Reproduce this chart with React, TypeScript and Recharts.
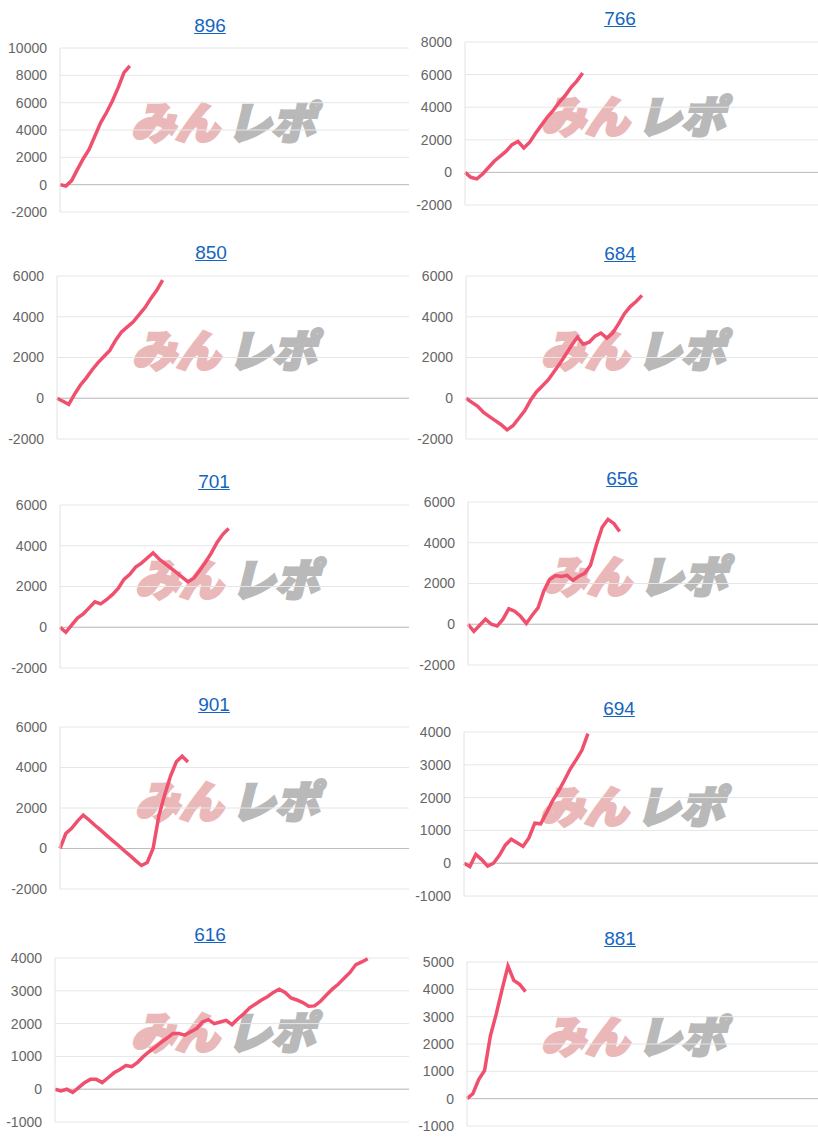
import { LineChart, Line, XAxis, YAxis, CartesianGrid, ReferenceLine } from 'recharts'

// x is a slot index; every chart shares the same 60-slot period
const X_SLOTS = 60

const titles = ['896', '766', '850', '684', '701', '656', '901', '694', '616', '881']

const values896 = [0, -100, 300, 1120, 1900, 2580, 3560, 4540, 5280, 6120, 7100, 8200, 8700]
const values766 = [0, -300, -400, -100, 300, 700, 1000, 1300, 1700, 1900, 1500, 1850, 2400, 2900, 3400, 3800, 4300, 4700, 5200, 5600, 6100]
const values850 = [0, -150, -300, 200, 650, 1000, 1400, 1750, 2050, 2350, 2850, 3250, 3500, 3750, 4100, 4450, 4900, 5300, 5800]
const values684 = [0, -200, -400, -700, -900, -1100, -1300, -1550, -1350, -980, -620, -100, 310, 600, 900, 1300, 1700, 2150, 2600, 3000, 2650, 2750, 3050, 3200, 2950, 3200, 3650, 4150, 4500, 4750, 5050]
const values701 = [0, -250, 100, 450, 650, 950, 1250, 1150, 1350, 1600, 1900, 2350, 2600, 2950, 3150, 3400, 3650, 3360, 3140, 2910, 2690, 2460, 2230, 2410, 2780, 3190, 3640, 4160, 4560, 4850]
const values656 = [0, -350, -50, 250, 0, -90, 250, 760, 640, 390, 40, 440, 800, 1640, 2200, 2390, 2350, 2400, 2150, 2360, 2500, 2900, 3890, 4760, 5150, 4950, 4550]
const values901 = [0, 740, 1000, 1350, 1650, 1410, 1150, 905, 650, 400, 160, -100, -340, -600, -840, -690, 0, 1620, 2660, 3580, 4280, 4560, 4270]
const values694 = [0, -100, 270, 110, -90, 0, 240, 550, 730, 620, 510, 770, 1220, 1200, 1540, 1900, 2190, 2520, 2870, 3150, 3450, 3950]
const values616 = [0, -50, 0, -100, 50, 200, 300, 300, 200, 350, 500, 600, 720, 690, 820, 1000, 1150, 1280, 1430, 1560, 1700, 1700, 1650, 1750, 1850, 2050, 2120, 2000, 2050, 2100, 1970, 2150, 2300, 2480, 2600, 2720, 2820, 2950, 3050, 2950, 2780, 2720, 2640, 2530, 2540, 2680, 2870, 3050, 3200, 3380, 3560, 3800, 3880, 3980]
const values881 = [0, 180, 700, 1030, 2300, 3100, 4000, 4850, 4330, 4180, 3920]

const ticks896 = [-2000, 0, 2000, 4000, 6000, 8000, 10000]
const ticks766 = [-2000, 0, 2000, 4000, 6000, 8000]
const ticks6k = [-2000, 0, 2000, 4000, 6000]
const ticks4k = [-1000, 0, 1000, 2000, 3000, 4000]
const ticks881 = [-1000, 0, 1000, 2000, 3000, 4000, 5000]

const panels = [
  { title: titles[0], values: values896, ticks: ticks896, col: 0, titleX: 210, titleY: 26, top: 48, bottom: 212, left: 60 },
  { title: titles[1], values: values766, ticks: ticks766, col: 1, titleX: 620, titleY: 19, top: 42, bottom: 205, left: 465 },
  { title: titles[2], values: values850, ticks: ticks6k, col: 0, titleX: 211, titleY: 253, top: 276, bottom: 439, left: 57 },
  { title: titles[3], values: values684, ticks: ticks6k, col: 1, titleX: 620, titleY: 254, top: 276, bottom: 439, left: 466 },
  { title: titles[4], values: values701, ticks: ticks6k, col: 0, titleX: 214, titleY: 482, top: 505, bottom: 668, left: 60 },
  { title: titles[5], values: values656, ticks: ticks6k, col: 1, titleX: 622, titleY: 479, top: 502, bottom: 665, left: 468 },
  { title: titles[6], values: values901, ticks: ticks6k, col: 0, titleX: 214, titleY: 705, top: 727, bottom: 889, left: 60 },
  { title: titles[7], values: values694, ticks: ticks4k, col: 1, titleX: 619, titleY: 709, top: 732, bottom: 896, left: 464 },
  { title: titles[8], values: values616, ticks: ticks4k, col: 0, titleX: 210, titleY: 935, top: 958, bottom: 1122, left: 55 },
  { title: titles[9], values: values881, ticks: ticks881, col: 1, titleX: 620, titleY: 939, top: 962, bottom: 1126, left: 467 },
]

const FONT = '"Liberation Sans", Arial, sans-serif'
const PINK = '#ebb8b9'
const GREY = '#b9b9b9'

function Panel({ p }: { p: (typeof panels)[number] }) {
  const colLeft = p.col === 0 ? 0 : 410
  const colWidth = p.col === 0 ? 409 : 408
  const data = p.values.map((v, i) => ({ slot: i, diff: v }))
  const pad = 12

  return (
    <>
      <a
        href="#"
        style={{
          position: 'absolute',
          left: p.titleX - 50,
          width: 100,
          top: p.titleY - 12,
          lineHeight: '24px',
          textAlign: 'center',
          fontFamily: FONT,
          fontSize: 19,
          color: '#1565c0',
          textDecoration: 'underline',
        }}
      >
        {p.title}
      </a>
      {/* watermark */}
      <div
        style={{
          position: 'absolute',
          left: p.titleX - 79,
          top: p.top + 50,
          whiteSpace: 'nowrap',
          fontFamily: '"Noto Sans CJK JP", sans-serif',
          fontSize: 44,
          fontWeight: 900,
          fontStyle: 'italic',
          lineHeight: 1,
        }}
      >
        <span style={{ color: PINK, WebkitTextStroke: `3px ${PINK}` }}>みん</span>
        <span style={{ color: GREY, WebkitTextStroke: `3px ${GREY}`, marginLeft: 8 }}>レポ</span>
      </div>
      <div style={{ position: 'absolute', left: colLeft, top: p.top - pad }}>
        <LineChart
          width={colWidth}
          height={p.bottom - p.top + pad * 2}
          data={data}
          margin={{ top: pad, right: 0, bottom: pad, left: 0 }}
        >
          <CartesianGrid vertical={false} stroke="#e6e6e6" />
          <XAxis dataKey="slot" type="number" domain={[0, X_SLOTS]} hide />
          <YAxis
            width={p.left - colLeft}
            type="number"
            domain={[p.ticks[0], p.ticks[p.ticks.length - 1]]}
            ticks={p.ticks}
            interval={0}
            tickLine={false}
            tickSize={0}
            tickMargin={13}
            axisLine={{ stroke: '#e2e2e2' }}
            tick={{ fontSize: 14, fill: '#666', fontFamily: FONT }}
          />
          <ReferenceLine y={0} stroke="#bdbdbd" />
          <Line
            type="linear"
            dataKey="diff"
            stroke="#f0506e"
            strokeWidth={3.5}
            dot={false}
            isAnimationActive={false}
          />
        </LineChart>
      </div>
    </>
  )
}

export default function App() {
  return (
    <div
      style={{
        position: 'absolute',
        left: 0,
        top: 0,
        width: 818,
        height: 1140,
        overflow: 'hidden',
        background: '#fff',
      }}
    >
      {panels.map(p => (
        <Panel key={p.title} p={p} />
      ))}
    </div>
  )
}
